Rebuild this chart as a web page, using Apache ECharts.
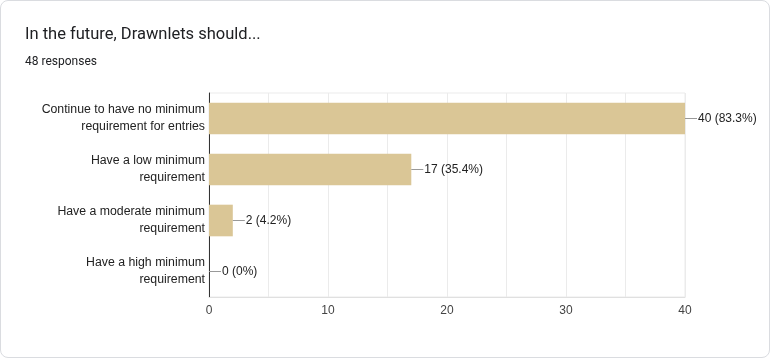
<!DOCTYPE html>
<html>
<head>
<meta charset="utf-8">
<script src="https://cdn.jsdelivr.net/npm/echarts@6/dist/echarts.min.js"></script>
<style>
  html, body { margin: 0; padding: 0; background: #ffffff; }
  #card { position: absolute; left: 0; top: 0; width: 768px; height: 356px;
          border: 1px solid #dadce0; border-radius: 8px; background: #fff; overflow: hidden; }
  #chart { width: 768px; height: 356px; }
</style>
</head>
<body>
<div id="card"><div id="chart"></div></div>
<script>
const titleText = "In the future, Drawnlets should...";
const subtitleText = "48 responses";
const categories = [
  "Continue to have no minimum\nrequirement for entries",
  "Have a low minimum\nrequirement",
  "Have a moderate minimum\nrequirement",
  "Have a high minimum\nrequirement"
];
const counts = [40, 17, 2, 0];
const percentLabels = ["83.3%", "35.4%", "4.2%", "0%"];
const xTickLabels = ["0", "10", "20", "30", "40"];

const chart = echarts.init(document.getElementById('chart'), null, { renderer: 'canvas' });
chart.setOption({
  animation: false,
  title: [
    { text: titleText, left: 19, top: 20,
      textStyle: { fontFamily: 'Roboto', fontSize: 16.5, fontWeight: 'normal', color: '#202124' } },
    { text: subtitleText, left: 19, top: 50,
      textStyle: { fontFamily: 'Roboto', fontSize: 12, fontWeight: 'normal', color: '#202124' } }
  ],
  grid: { left: 208, right: 84, top: 92, bottom: 60, show: true, borderColor: '#ebebeb', borderWidth: 1 },
  xAxis: {
    type: 'value', min: 0, max: 40, interval: 5,
    axisLine: { show: true, lineStyle: { color: '#e0e0e0' } },
    axisTick: { show: false },
    splitLine: { show: true, lineStyle: { color: '#ebebeb' } },
    axisLabel: {
      margin: 8, color: '#444', fontFamily: 'Arial, Liberation Sans', fontSize: 12,
      formatter: v => xTickLabels.indexOf(String(v)) >= 0 ? String(v) : ''
    }
  },
  yAxis: {
    type: 'category', data: categories, inverse: true,
    axisLine: { show: true, lineStyle: { color: '#333' } },
    axisTick: { show: false },
    axisLabel: { margin: 4, color: '#222', fontFamily: 'Arial, Liberation Sans', fontSize: 12.3, lineHeight: 17, align: 'right' }
  },
  series: [{
    type: 'bar',
    data: counts,
    barWidth: '62%',
    itemStyle: { color: '#dac696' },
    label: {
      show: true, position: 'right', distance: 0,
      formatter: p => '{l|}{t|' + counts[p.dataIndex] + ' (' + percentLabels[p.dataIndex] + ')}',
      rich: {
        l: { width: 12, height: 1, backgroundColor: '#999', verticalAlign: 'middle' },
        t: { fontFamily: 'Arial, Liberation Sans', fontSize: 12, color: '#222', padding: [0, 0, 0, 1] }
      }
    }
  }]
});
</script>
</body>
</html>
